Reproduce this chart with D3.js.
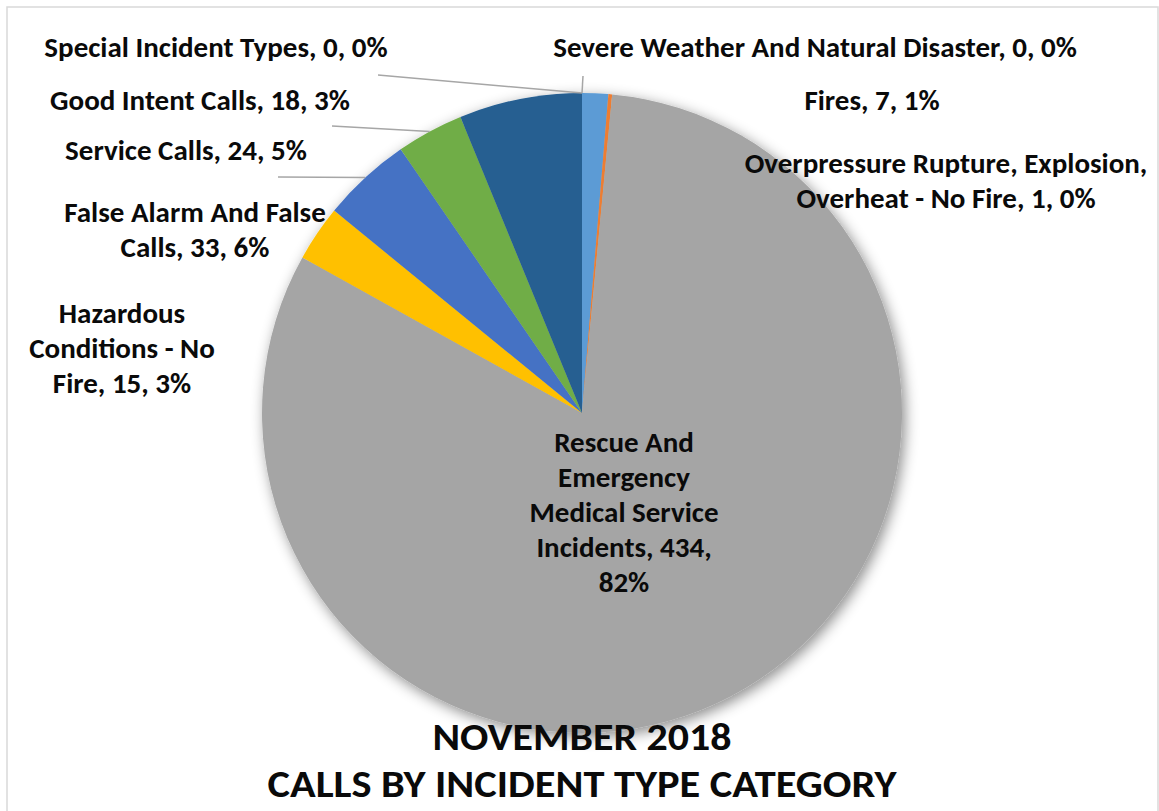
<!DOCTYPE html>
<meta charset="utf-8">
<style>
body { margin: 0; background: #fff; }
text { font-family: Carlito, Calibri, Lato, sans-serif; font-weight: bold; fill: #0a0a0a; }
.label { font-size: 29px; }
.title { font-size: 39px; }
</style>
<body>
<script src="https://d3js.org/d3.v7.min.js"></script>
<script>

// data
var categories = [
  "Fires",
  "Overpressure Rupture, Explosion, Overheat - No Fire",
  "Rescue And Emergency Medical Service Incidents",
  "Hazardous Conditions - No Fire",
  "Service Calls",
  "Good Intent Calls",
  "False Alarm And False Calls",
  "Severe Weather And Natural Disaster",
  "Special Incident Types"
];
var counts = [7, 1, 434, 15, 24, 18, 33, 0, 0];
var colors = ["#5B9BD5", "#ED7D31", "#A5A5A5", "#FFC000", "#4472C4",
              "#70AD47", "#255E91", "#9E480E", "#636363"];
var titleLines = ["NOVEMBER 2018", "CALLS BY INCIDENT TYPE CATEGORY"];

// label placement: center x, first baseline, words per line, leader start (if any)
var labelLayout = [
  {x: 872, y: 110, words: [4]},
  {x: 946, y: 173, words: [3, 6]},
  {x: 624, y: 452, words: [2, 1, 2, 2, 1]},
  {x: 122, y: 323, words: [1, 3, 3]},
  {x: 186, y: 160, words: [5], lead: [278, 177]},
  {x: 200, y: 110, words: [5], lead: [332, 126]},
  {x: 195, y: 222, words: [4, 3]},
  {x: 815, y: 57, words: [8], lead: [583, 76]},
  {x: 216, y: 57, words: [5], lead: [378, 75]}
];
var titleWidths = [299, 629];

var W = 1159, H = 811;
var cx = 582, cy = 413, radius = 320;
var lineH = 35;

var svg = d3.select("body").append("svg")
    .attr("width", W)
    .attr("height", H);

// soft shadow round the pie
var defs = svg.append("defs");
var f = defs.append("filter").attr("id", "shadow")
    .attr("x", "-20%").attr("y", "-20%").attr("width", "140%").attr("height", "140%");
f.append("feDropShadow")
    .attr("dx", 3).attr("dy", 4)
    .attr("stdDeviation", 7)
    .attr("flood-color", "#000")
    .attr("flood-opacity", 0.45);

// chart frame
svg.append("rect")
    .attr("x", 7).attr("y", 7)
    .attr("width", 1151).attr("height", 820)
    .attr("fill", "#fff")
    .attr("stroke", "#d9d9d9")
    .attr("stroke-width", 1.5);

var total = d3.sum(counts);
var pct = d3.format(".0%");

var data = categories.map(function(c, i) {
  return {name: c, value: counts[i], color: colors[i], layout: labelLayout[i]};
});

var pie = d3.pie().sort(null).value(function(d) { return d.value; });
var arcs = pie(data);

var arc = d3.arc().innerRadius(0).outerRadius(radius);
var edge = d3.arc().innerRadius(radius).outerRadius(radius);

var g = svg.append("g").attr("transform", "translate(" + cx + "," + cy + ")");

g.append("g").attr("filter", "url(#shadow)")
  .selectAll("path")
  .data(arcs)
  .enter()
  .append("path")
    .attr("d", arc)
    .attr("fill", function(d) { return d.data.color; });

// leader lines
g.selectAll(".leader")
  .data(arcs.filter(function(d) { return d.data.layout.lead; }))
  .enter()
  .append("polyline")
    .attr("class", "leader")
    .attr("fill", "none")
    .attr("stroke", "#a6a6a6")
    .attr("stroke-width", 1.5)
    .attr("points", function(d) {
      var s = d.data.layout.lead;
      var e = edge.centroid(d);
      return [[s[0] - cx, s[1] - cy], e].join(" ");
    });

// data labels
arcs.forEach(function(d) {
  var words = (d.data.name + ", " + d.data.value + ", " + pct(d.data.value / total)).split(" ");
  var lay = d.data.layout;
  var t = svg.append("text")
      .attr("class", "label")
      .attr("text-anchor", "middle")
      .attr("x", lay.x)
      .attr("y", lay.y);
  var k = 0;
  lay.words.forEach(function(n, li) {
    t.append("tspan")
      .attr("x", lay.x)
      .attr("dy", li === 0 ? 0 : lineH)
      .text(words.slice(k, k + n).join(" "));
    k += n;
  });
});

// title
svg.selectAll(".title")
  .data(titleLines)
  .enter()
  .append("text")
    .attr("class", "title")
    .attr("text-anchor", "middle")
    .attr("x", cx)
    .attr("y", function(d, i) { return 750 + i * 47; })
    .attr("textLength", function(d, i) { return titleWidths[i]; })
    .attr("lengthAdjust", "spacingAndGlyphs")
    .text(function(d) { return d; });

</script>
</body>
